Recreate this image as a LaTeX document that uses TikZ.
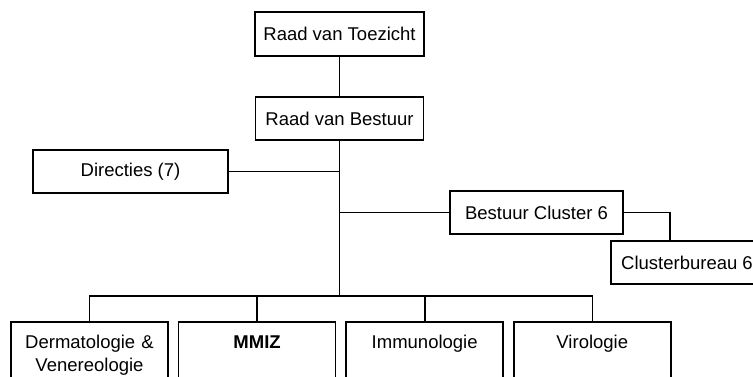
\documentclass[tikz,border=0pt]{standalone}
\usepackage{fontspec}
\setmainfont{Liberation Sans}
\usetikzlibrary{positioning}

\begin{document}
\begin{tikzpicture}[x=1pt,y=-1pt,line width=1.6pt,node distance=9pt,
  main node/.style={rectangle,draw,line width=1.6pt,minimum height=43pt,
    inner sep=0pt,font=\fontsize{18.5}{23}\selectfont},
  dept node/.style={rectangle,draw,line width=1.6pt,anchor=north,
    minimum width=157pt,text width=150pt,align=center,inner xsep=3.5pt,
    inner ysep=14pt,text height=13pt,text depth=50pt,
    font=\fontsize{18.5}{23}\selectfont}]
\useasboundingbox (0,0) rectangle (753,376);

% top of the tree
  \node[main node,minimum width=169pt,minimum height=44pt] (rvt) at (339.5,34) {Raad van Toezicht};
  \node[main node,minimum width=168pt] (rvb) at (339.5,118.5) {Raad van Bestuur};

% staff and cluster
  \node[main node,minimum width=195pt] (dir) at (130.5,171.5) {Directies (7)};
  \node[main node,minimum width=173pt] (bc6) at (536.5,212.5) {Bestuur Cluster 6};
  \node[main node,minimum width=152pt] (cb6) at (687,262.5) {Clusterbureau 6};

% departments
  \node[dept node] (derm) at (89.5,321) {Dermatologie \&\\Venereologie};
  \node[dept node,right=of derm] (mmiz) {\bfseries MMIZ};
  \node[dept node,right=of mmiz] (immu) {Immunologie};
  \node[dept node,right=of immu] (viro) {Virologie};

  \coordinate (hub) at (339.5,296);

% connectors
  \draw (rvt) -- (rvb);
  \draw (rvb.south) -- (hub);
  \draw (dir.east) -- (dir.east -| hub);
  \draw (bc6.west) -- (bc6.west -| hub);
  \draw (bc6.east) -| ([xshift=-17pt]cb6.north);

  \draw (derm.north) |- (hub);
  \draw (viro.north) |- (hub);
  \draw (mmiz.north) -- (mmiz.north |- hub);
  \draw (immu.north) -- (immu.north |- hub);

\end{tikzpicture}
\end{document}
